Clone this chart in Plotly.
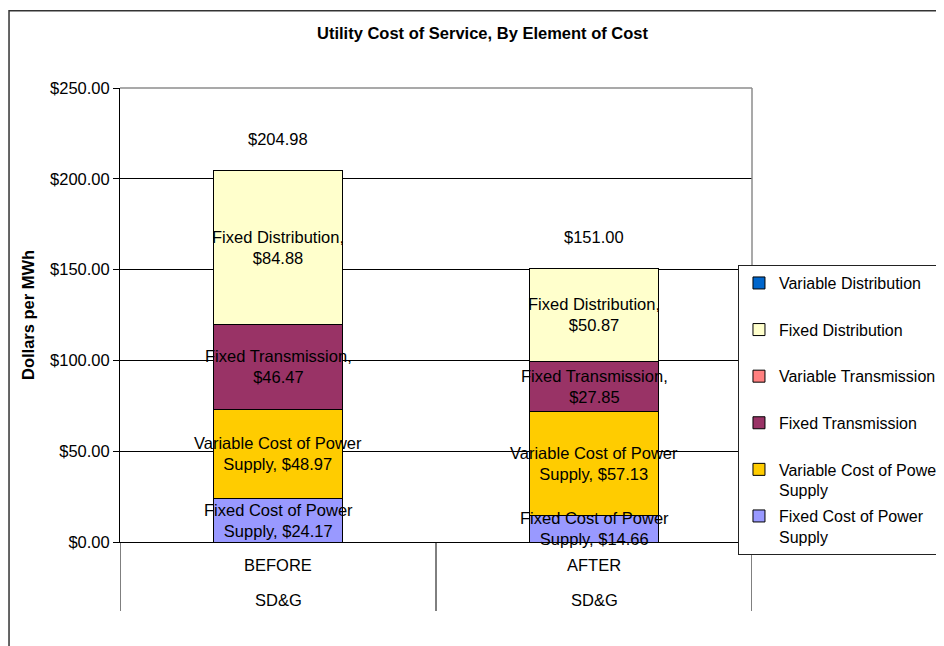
import plotly.graph_objects as go

# ---- data ----
categories = ["BEFORE", "AFTER"]
groups = ["SD&G", "SD&G"]

# stacked from bottom to top
series_names = [
    "Fixed Cost of Power Supply",
    "Variable Cost of Power Supply",
    "Fixed Transmission",
    "Variable Transmission",
    "Fixed Distribution",
    "Variable Distribution",
]
legend_names = [
    "Fixed Cost of Power<br>Supply",
    "Variable Cost of Power<br>Supply",
    "Fixed Transmission<br> ",
    "Variable Transmission<br> ",
    "Fixed Distribution<br> ",
    "Variable Distribution<br> ",
]
label_names = [
    "Fixed Cost of Power<br>Supply, ",
    "Variable Cost of Power<br>Supply, ",
    "Fixed Transmission,<br>",
    "Variable Transmission,<br>",
    "Fixed Distribution,<br>",
    "Variable Distribution,<br>",
]
fixed_power = [24.17, 14.66]
variable_power = [48.97, 57.13]
fixed_trans = [46.47, 27.85]
variable_trans = [0.0, 0.0]
fixed_dist = [84.88, 50.87]
variable_dist = [0.0, 0.0]
series_values = [fixed_power, variable_power, fixed_trans, variable_trans, fixed_dist, variable_dist]
totals = [204.98, 151.00]

colors = ["#9999FF", "#FFCC00", "#993366", "#FF8080", "#FFFFCC", "#0066CC"]

FONT = "Liberation Sans, Arial, sans-serif"
FS = 16.5

fig = go.Figure()
n_series = len(series_names)
for k, (name, lname, vals, col) in enumerate(zip(series_names, legend_names, series_values, colors)):
    fig.add_trace(go.Bar(
        x=categories, y=vals, name=lname, legendgroup=name,
        legendrank=n_series - k,
        marker=dict(color=col, line=dict(color="#000000", width=1)),
        hoverinfo="skip",
    ))

annotations = []
# segment labels
cum = [0.0] * len(categories)
for lab, vals in zip(label_names, series_values):
    for i, v in enumerate(vals):
        if v > 0:
            annotations.append(dict(
                x=categories[i], y=cum[i] + v / 2, xref="x", yref="y",
                text=f"{lab}${v:.2f}", showarrow=False,
                font=dict(family=FONT, size=FS, color="#000000"),
                yanchor="middle",
            ))
        cum[i] += v
# totals
for i, t in enumerate(totals):
    annotations.append(dict(
        x=categories[i], y=t, xref="x", yref="y", text=f"${t:.2f}",
        showarrow=False, yanchor="middle", yshift=31,
        font=dict(family=FONT, size=FS, color="#000000"),
    ))
# category labels (two levels)
for c, g in zip(categories, groups):
    annotations.append(dict(x=c, y=-0.0507, xref="x", yref="paper", text=c,
                            showarrow=False, yanchor="middle",
                            font=dict(family=FONT, size=FS, color="#000000")))
    annotations.append(dict(x=c, y=-0.1278, xref="x", yref="paper", text=g,
                            showarrow=False, yanchor="middle",
                            font=dict(family=FONT, size=FS, color="#000000")))
# title
annotations.append(dict(x=0.5728, y=1.1211, xref="paper", yref="paper",
                        text="<b>Utility Cost of Service, By Element of Cost</b>",
                        showarrow=False, xanchor="center", yanchor="middle",
                        font=dict(family=FONT, size=16.5, color="#000000")))
# y axis title
annotations.append(dict(x=-0.1456, y=0.5, xref="paper", yref="paper",
                        text="<b>Dollars per MWh</b>", textangle=-90,
                        showarrow=False, xanchor="center", yanchor="middle",
                        font=dict(family=FONT, size=16.5, color="#000000")))

shapes = []
# category separators below the axis
for xs in [-0.5, 0.5, 1.5]:
    shapes.append(dict(type="line", xref="x", yref="paper", x0=xs, x1=xs,
                       y0=0, y1=-0.152, line=dict(color="#000000", width=1)))
# plot area border (top and right) in grey
shapes.append(dict(type="line", xref="paper", yref="paper", x0=0, x1=1, y0=1, y1=1,
                   line=dict(color="#8c8c8c", width=1.5)))
shapes.append(dict(type="line", xref="paper", yref="paper", x0=1, x1=1, y0=0, y1=1,
                   line=dict(color="#8c8c8c", width=1.5)))
# outer chart frame
shapes.append(dict(type="rect", xref="paper", yref="paper", x0=-0.1756, x1=1.4,
                   y0=-0.4, y1=1.17, line=dict(color="#333333", width=1.5)))

fig.update_layout(
    width=944, height=646,
    barmode="stack", bargap=0.59,
    margin=dict(l=112, r=200, t=80, b=112, autoexpand=False),
    plot_bgcolor="#FFFFFF", paper_bgcolor="#FFFFFF",
    font=dict(family=FONT, size=FS, color="#000000"),
    showlegend=True,
    legend=dict(
        x=0.9778, y=0.61, xanchor="left", yanchor="top",
        traceorder="grouped", tracegroupgap=2, valign="top",
        bgcolor="#FFFFFF", bordercolor="#222222", borderwidth=1,
        font=dict(family=FONT, size=16, color="#000000"),
    ),
    xaxis=dict(
        type="category", range=[-0.5, 1.5], showticklabels=False,
        showline=True, linecolor="#000000", linewidth=1,
        showgrid=False, zeroline=False, ticks="",
    ),
    yaxis=dict(
        range=[0, 250], dtick=50, tick0=0, tickprefix="$", tickformat=".2f",
        showgrid=True, gridcolor="#000000", gridwidth=1,
        showline=True, linecolor="#000000", linewidth=1,
        ticks="outside", ticklen=6, tickcolor="#000000",
        zeroline=False,
        tickfont=dict(family=FONT, size=FS, color="#000000"),
    ),
    annotations=annotations,
    shapes=shapes,
)

fig.write_html("out.html")
